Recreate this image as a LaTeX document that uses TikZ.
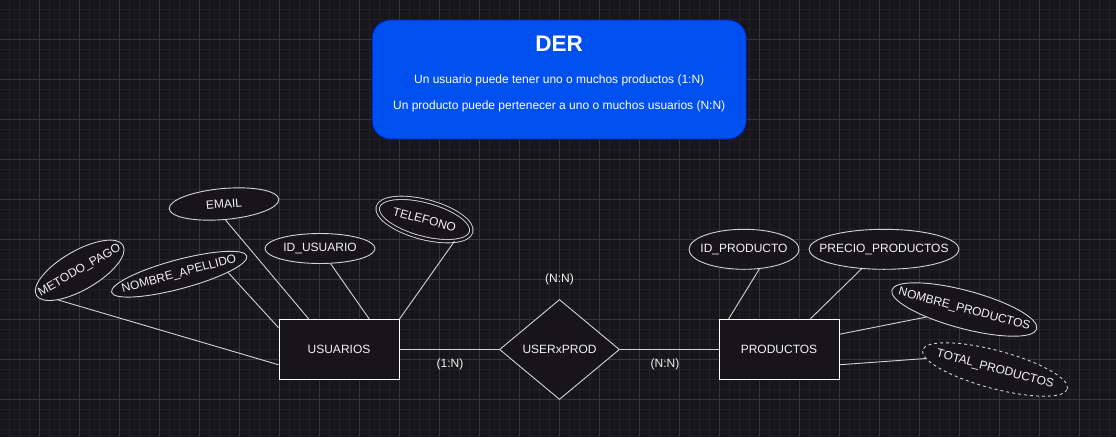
\documentclass[tikz,border=0pt]{standalone}
\usepackage{fontspec}
\setmainfont{Liberation Sans}
\usetikzlibrary{shapes.geometric,calc}
\definecolor{bgc}{HTML}{18161D}
\definecolor{gmin}{HTML}{232128}
\definecolor{gmaj}{HTML}{37353C}
\definecolor{boxblue}{HTML}{0050EF}
\definecolor{boxedge}{HTML}{001DBC}
\definecolor{shfill}{HTML}{18141D}
\definecolor{linec}{HTML}{D4D4D4}
\definecolor{txtc}{HTML}{F2F2F2}
\newcommand{\ztxt}[1]{\makebox[0pt][c]{#1}}
\begin{document}
\begin{tikzpicture}[x=1pt,y=-1pt,
  lbl/.style={font=\fontsize{12}{14}\selectfont, text=txtc},
  entity/.style={rectangle, draw=white, line width=1pt, fill=shfill, minimum width=120pt, minimum height=60pt, inner sep=0pt, lbl},
  attr/.style={ellipse, draw=linec, line width=0.9pt, fill=shfill, inner sep=0pt, lbl},
  relat/.style={diamond, draw=linec, line width=0.9pt, fill=shfill, minimum width=120pt, minimum height=100pt, inner sep=0pt, lbl},
  conn/.style={draw=linec, line width=0.9pt},
  gridmin/.style={draw=gmin, line width=0.7pt},
  gridmaj/.style={draw=gmaj, line width=0.9pt},
]
\useasboundingbox (0,0) rectangle (1116,437);
\fill[bgc] (0,0) rectangle (1116,437);
\foreach \x in {9.5,19.5,...,1116} \draw[gridmin] (\x,0) -- (\x,437);
\foreach \y in {9.5,19.5,...,437} \draw[gridmin] (0,\y) -- (1116,\y);
\foreach \x in {39.5,79.5,...,1116} \draw[gridmaj] (\x,0) -- (\x,437);
\foreach \y in {39.5,79.5,...,437} \draw[gridmaj] (0,\y) -- (1116,\y);

% title box
\node[rectangle, rounded corners=18pt, fill=boxblue, draw=boxedge, line width=0.8pt, minimum width=374pt, minimum height=119pt, inner sep=0pt] (der) at (559.2,79.5) {};
\node[font=\bfseries\fontsize{22.5}{26}\selectfont, text=white] (title) at (559.2,43.5) {DER};
\node[font=\fontsize{12}{14}\selectfont, text=white] (s1) at (559.2,80.5) {Un usuario puede tener uno o muchos productos (1:N)};
\node[font=\fontsize{12}{14}\selectfont, text=white] (s2) at (559.2,106) {Un producto puede pertenecer a uno o muchos usuarios (N:N)};

% entities and relation
\node[entity] (usu) at (339,349.5) {USUARIOS};
\node[relat] (rel) at (559.5,349.5) {\ztxt{USERxPROD}};
\node[entity] (prod) at (779,349.5) {PRODUCTOS};

% attributes
\node[attr, minimum width=110pt, minimum height=31pt, rotate=5] (email) at (224,204) {\ztxt{EMAIL}};
\node[attr, minimum width=100pt, minimum height=39pt, rotate=30] (mp) at (79.7,270.3) {\ztxt{METODO\_PAGO}};
\node[attr, minimum width=140pt, minimum height=29pt, rotate=15] (na) at (179.2,274.2) {\ztxt{NOMBRE\_APELLIDO}};
\node[attr, minimum width=110pt, minimum height=30pt] (idu) at (320,248.5) {\ztxt{ID\_USUARIO}};
\node[attr, double=shfill, double distance=2.4pt, minimum width=96.7pt, minimum height=36.7pt, rotate=-15] (tel) at (424.5,219.5) {\ztxt{TELEFONO}};
\node[attr, minimum width=110pt, minimum height=40pt] (idp) at (744,249.3) {\ztxt{ID\_PRODUCTO}};
\node[attr, minimum width=150pt, minimum height=40pt] (pre) at (884,249.3) {\ztxt{PRECIO\_PRODUCTOS}};
\node[attr, minimum width=150pt, minimum height=38pt, rotate=-15] (np) at (964.3,309.5) {\ztxt{NOMBRE\_PRODUCTOS}};
\node[attr, dash pattern=on 3pt off 3pt, minimum width=150pt, minimum height=38pt, rotate=-15] (tp) at (995,369.5) {\ztxt{TOTAL\_PRODUCTOS}};

% connectors
\draw[conn] (usu.east) -- (rel.west);
\draw[conn] (rel.east) -- (prod.west);
\draw[conn] (mp.204) -- ($(usu.north west)!0.75!(usu.south west)$);
\draw[conn] (na.-13) -- ($(usu.north west)!0.142!(usu.south west)$);
\draw[conn] (email.south) -- ($(usu.north west)!0.25!(usu.north east)$);
\draw[conn] (idu) -- ($(usu.north west)!0.75!(usu.north east)$);
\draw[conn] (tel.-21) -- (usu.north east);
\draw[conn] (idp.-52) -- ($(prod.north west)!0.0833!(prod.north east)$);
\draw[conn] (pre.221) -- ($(prod.north west)!0.758!(prod.north east)$);
\draw[conn] ($(prod.north east)!0.25!(prod.south east)$) -- (np);
\draw[conn] ($(prod.north east)!0.75!(prod.south east)$) -- (tp.186);

% cardinality labels
\node[lbl] (l1) at (450,364) {(1:N)};
\node[lbl] (l2) at (559.5,279) {(N:N)};
\node[lbl] (l3) at (665,364) {(N:N)};
\end{tikzpicture}
\end{document}
